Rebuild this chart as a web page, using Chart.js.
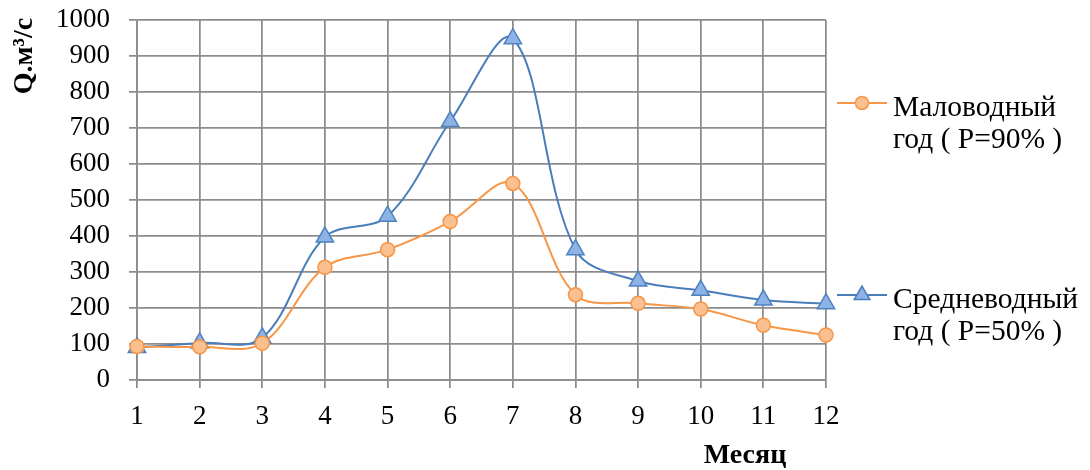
<!DOCTYPE html>
<html>
<head>
<meta charset="utf-8">
<script src="https://cdn.jsdelivr.net/npm/chart.js@4"></script>
<style>
html,body{margin:0;padding:0;background:#fff;}
#wrap{width:1090px;height:470px;}
</style>
</head>
<body>
<div id="wrap"><canvas id="c" width="1090" height="470"></canvas></div>
<script>
const months = ['1','2','3','4','5','6','7','8','9','10','11','12'];
const lowWater = [93, 92, 102, 313, 362, 440, 546, 237, 213, 197, 152, 125];
const midWater = [90, 103, 117, 397, 455, 718, 948, 362, 275, 249, 222, 212];
const yMin = 0, yMax = 1000, yStep = 100;
const lowLabel = ['Маловодный', 'год ( P=90% )'];
const midLabel = ['Средневодный', 'год ( P=50% )'];
const yTitle = 'Q.м³/с';
const xTitle = 'Месяц';

const SERIF = '"Liberation Serif", "Times New Roman", serif';
const ORANGE = '#f79646';
const ORANGE_FILL = '#fbc08f';
const BLUE = '#4a7ebb';
const BLUE_FILL = '#8db3e6';
const GRID = '#8c8c8c';

const outsideText = {
  id: 'outsideText',
  afterDraw(chart) {
    const ctx = chart.ctx;
    const ca = chart.chartArea;
    ctx.save();
    ctx.fillStyle = '#000';
    ctx.font = 'bold 28px ' + SERIF;
    ctx.textAlign = 'center';
    ctx.textBaseline = 'middle';
    ctx.translate(25, 56);
    ctx.rotate(-Math.PI / 2);
    ctx.fillText(yTitle, 0, 0);
    ctx.restore();

    ctx.save();
    ctx.fillStyle = '#000';
    ctx.font = 'bold 28px ' + SERIF;
    ctx.textAlign = 'center';
    ctx.textBaseline = 'middle';
    ctx.fillText(xTitle, ca.right - 81, 456);

    const items = [
      {lines: lowLabel, color: ORANGE, fill: ORANGE_FILL, style: 'circle', r: 6.5, ym: 103},
      {lines: midLabel, color: BLUE, fill: BLUE_FILL, style: 'triangle', r: 9, ym: 295}
    ];
    ctx.font = '29.5px ' + SERIF;
    ctx.textAlign = 'left';
    ctx.textBaseline = 'alphabetic';
    items.forEach(it => {
      const x0 = ca.right + 11, x1 = ca.right + 61, xm = (x0 + x1) / 2;
      ctx.strokeStyle = it.color;
      ctx.lineWidth = 2;
      ctx.beginPath();
      ctx.moveTo(x0, it.ym); ctx.lineTo(x1, it.ym);
      ctx.stroke();
      ctx.fillStyle = it.fill;
      ctx.lineWidth = 1.5;
      ctx.beginPath();
      if (it.style === 'circle') {
        ctx.arc(xm, it.ym, it.r, 0, Math.PI * 2);
      } else {
        const r = it.r;
        ctx.moveTo(xm, it.ym - r);
        ctx.lineTo(xm + r * Math.sin(Math.PI * 2 / 3), it.ym + r / 2);
        ctx.lineTo(xm - r * Math.sin(Math.PI * 2 / 3), it.ym + r / 2);
        ctx.closePath();
      }
      ctx.fill();
      ctx.stroke();
      ctx.fillStyle = '#000';
      it.lines.forEach((t, i) => {
        ctx.fillText(t, ca.right + 67, it.ym + 13 + i * 32);
      });
    });
    ctx.restore();
  }
};

new Chart(document.getElementById('c'), {
  type: 'line',
  data: {
    labels: months,
    datasets: [
      {
        label: lowLabel.join(' '),
        data: lowWater,
        borderColor: ORANGE,
        backgroundColor: ORANGE_FILL,
        pointBackgroundColor: ORANGE_FILL,
        pointBorderColor: ORANGE,
        pointBorderWidth: 1.5,
        pointStyle: 'circle',
        pointRadius: 7,
        borderWidth: 2,
        tension: 0.35,
        fill: false
      },
      {
        label: midLabel.join(' '),
        data: midWater,
        borderColor: BLUE,
        backgroundColor: BLUE_FILL,
        pointBackgroundColor: BLUE_FILL,
        pointBorderColor: '#4f81bd',
        pointBorderWidth: 1.5,
        pointStyle: 'triangle',
        pointRadius: 10,
        borderWidth: 2,
        tension: 0.35,
        fill: false
      }
    ]
  },
  options: {
    responsive: false,
    animation: false,
    devicePixelRatio: 1,
    layout: { padding: { left: 0, right: 264, top: 20, bottom: 0 } },
    plugins: {
      legend: { display: false },
      tooltip: { enabled: false },
      title: { display: false }
    },
    scales: {
      x: {
        type: 'category',
        offset: false,
        grid: { color: GRID, lineWidth: 1.75, tickLength: 8, drawTicks: true },
        border: { color: GRID, width: 1.75 },
        ticks: {
          color: '#000',
          font: { family: SERIF, size: 27 },
          padding: 13,
          maxRotation: 0,
          autoSkip: false
        },
        afterFit(scale) { scale.height = 90; scale.paddingLeft = 0; scale.paddingRight = 0; }
      },
      y: {
        min: yMin,
        max: yMax,
        grid: { color: GRID, lineWidth: 1.75, tickLength: 8 },
        border: { color: GRID, width: 1.75 },
        ticks: {
          color: '#000',
          font: { family: SERIF, size: 27 },
          padding: 19,
          stepSize: yStep,
          autoSkip: false,
          callback: (v) => String(v)
        },
        afterFit(scale) { scale.width = 137; scale.paddingTop = 0; scale.paddingBottom = 0; }
      }
    }
  },
  plugins: [outsideText]
});
</script>
</body>
</html>
